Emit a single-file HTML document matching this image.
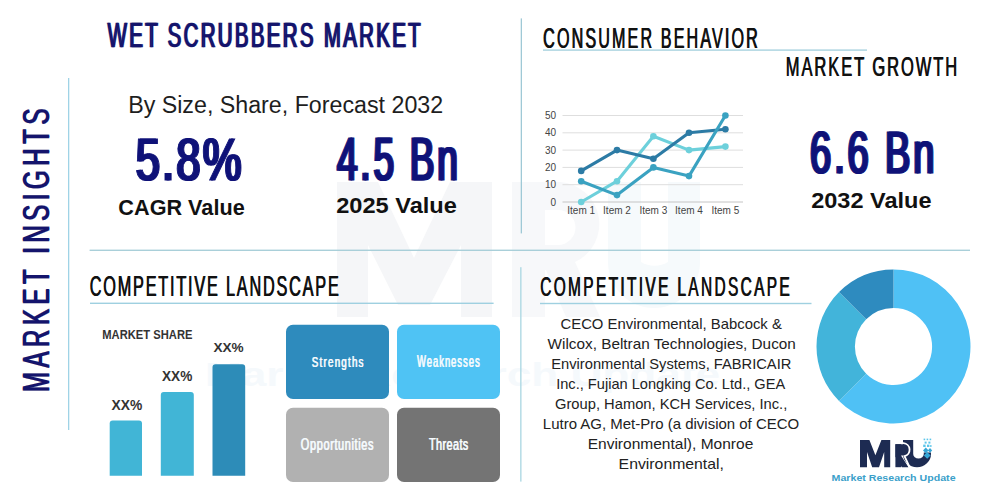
<!DOCTYPE html>
<html>
<head>
<meta charset="utf-8">
<style>
html,body{margin:0;padding:0;background:#fff;}
body{width:1000px;height:500px;overflow:hidden;position:relative;font-family:"Liberation Sans",sans-serif;}
svg{position:absolute;left:0;top:0;}
text{font-family:"Liberation Sans",sans-serif;}
</style>
</head>
<body>
<svg width="1000" height="500" viewBox="0 0 1000 500">
<g id="wm" fill="#f5f6f8">
  <path d="M337,317 V182 H378 L414,258 L450,182 H492 V317 H461 V245 L430,305 H398 L368,245 V317 Z"/>
  <path d="M512,317 V182 H560 A42,42 0 0 1 575,262 L600,317 H566 L546,270 H545 V317 Z M545,210 V245 H558 A17,17 0 0 0 558,210 Z" fill-rule="evenodd" fill="#f7f8fa"/>
  <path d="M608,182 H641 V262 A26,26 0 0 0 668,262 V182 H700 V262 A46,46 0 0 1 608,262 Z" fill="#f6fafc"/>
</g>
<text id="WT" x="205" y="386" font-size="34" font-weight="bold" fill="#f5f9fc" textLength="515" lengthAdjust="spacingAndGlyphs">Market Research Update</text>

<!-- lines -->
<rect x="68" y="78" width="1.3" height="352" fill="#9fd3e6"/>
<rect x="520.7" y="18.4" width="1.3" height="215" fill="#9fc9d6"/>
<rect x="543" y="49.4" width="324" height="1.4" fill="#a9d3df"/>
<rect x="89.6" y="249.6" width="880.4" height="1.4" fill="#a9cfd9"/>
<rect x="90" y="302.6" width="403.6" height="1.4" fill="#9fd0e0"/>
<rect x="520.2" y="267.2" width="1.3" height="214.4" fill="#a9d6e2"/>
<rect x="540" y="302.8" width="271.5" height="1.4" fill="#9fd0e0"/>

<!-- line chart -->
<g id="chart">
<g stroke="#dedede" stroke-width="1">
  <line x1="562.5" y1="115.5" x2="743" y2="115.5"/>
  <line x1="562.5" y1="132.8" x2="743" y2="132.8"/>
  <line x1="562.5" y1="150.1" x2="743" y2="150.1"/>
  <line x1="562.5" y1="167.4" x2="743" y2="167.4"/>
  <line x1="562.5" y1="184.7" x2="743" y2="184.7"/>
</g>
<line x1="562.5" y1="202" x2="743" y2="202" stroke="#c4c4c4" stroke-width="1"/>
<g font-size="10" fill="#444" text-anchor="end">
  <text x="556" y="119">50</text>
  <text x="556" y="136.3">40</text>
  <text x="556" y="153.6">30</text>
  <text x="556" y="170.9">20</text>
  <text x="556" y="188.2">10</text>
  <text x="556" y="205.5">0</text>
</g>
<g font-size="10" fill="#444" text-anchor="middle">
  <text x="581.2" y="213.7">Item 1</text>
  <text x="617" y="213.7">Item 2</text>
  <text x="653.4" y="213.7">Item 3</text>
  <text x="689" y="213.7">Item 4</text>
  <text x="725.4" y="213.7">Item 5</text>
</g>
<polyline fill="none" stroke="#6dd0db" stroke-width="3.1" stroke-linejoin="round" points="581.2,202.0 617,181.2 653.4,136.3 689,150.1 725.4,146.6"/>
<g fill="#6dd0db"><circle cx="581.2" cy="202.0" r="3.3"/><circle cx="617" cy="181.2" r="3.3"/><circle cx="653.4" cy="136.3" r="3.3"/><circle cx="689" cy="150.1" r="3.3"/><circle cx="725.4" cy="146.6" r="3.3"/></g>
<polyline fill="none" stroke="#2c7ba5" stroke-width="3.1" stroke-linejoin="round" points="581.2,170.9 617,150.1 653.4,158.8 689,132.8 725.4,129.3"/>
<g fill="#2c7ba5"><circle cx="581.2" cy="170.9" r="3.3"/><circle cx="617" cy="150.1" r="3.3"/><circle cx="653.4" cy="158.8" r="3.3"/><circle cx="689" cy="132.8" r="3.3"/><circle cx="725.4" cy="129.3" r="3.3"/></g>
<polyline fill="none" stroke="#3aa2c1" stroke-width="3.1" stroke-linejoin="round" points="581.2,181.2 617,195.1 653.4,167.4 689,176.1 725.4,115.5"/>
<g fill="#3aa2c1"><circle cx="581.2" cy="181.2" r="3.3"/><circle cx="617" cy="195.1" r="3.3"/><circle cx="653.4" cy="167.4" r="3.3"/><circle cx="689" cy="176.1" r="3.3"/><circle cx="725.4" cy="115.5" r="3.3"/></g>
</g>
</g>

<!-- bars -->
<path d="M109.7,475.8 V423.4 a3,3 0 0 1 3,-3 H139 a3,3 0 0 1 3,3 V475.8 Z" fill="#41b5d6"/>
<path d="M160.8,475.8 V395.1 a3,3 0 0 1 3,-3 H190.8 a3,3 0 0 1 3,3 V475.8 Z" fill="#41b5d6"/>
<path d="M212.5,475.8 V367.2 a3,3 0 0 1 3,-3 H242.2 a3,3 0 0 1 3,3 V475.8 Z" fill="#2d8cb8"/>

<!-- SWOT -->
<rect x="286" y="324.8" width="103" height="74.2" rx="7" fill="#2e8bbd"/>
<rect x="397" y="324.8" width="103" height="74.2" rx="7" fill="#4fc3f4"/>
<rect x="286" y="407.8" width="103" height="74.2" rx="7" fill="#b1b1b1"/>
<rect x="397" y="407.8" width="103" height="74.2" rx="7" fill="#747474"/>

<!-- donut -->
<g transform="translate(893.5,346.5)">
  <path d="M0,-77 A77,77 0 1 1 -54.45,54.45 L-27.3,27.3 A38.6,38.6 0 1 0 0,-38.6 Z" fill="#4fc1f5"/>
  <path d="M-54.45,54.45 A77,77 0 0 1 -54.45,-54.45 L-27.3,-27.3 A38.6,38.6 0 0 0 -27.3,27.3 Z" fill="#42b4da"/>
  <path d="M-54.45,-54.45 A77,77 0 0 1 0,-77 L0,-38.6 A38.6,38.6 0 0 0 -27.3,-27.3 Z" fill="#2e8bbf"/>
</g>

<g id="V1" transform="translate(49,392.5) rotate(-90)" fill="#14146c" stroke="#14146c" stroke-width="0.3" font-size="37.8" letter-spacing="7.3">
<text x="0" y="0" textLength="288" lengthAdjust="spacingAndGlyphs">MARKET INSIGHTS</text>
<text x="1" y="0" textLength="288" lengthAdjust="spacingAndGlyphs">MARKET INSIGHTS</text>
</g>

<g id="logo">
  <path fill="#1d2b52" d="M860,467.2 V440 H869.4 L875.4,455.2 L881.4,440 H890.2 V467.2 H884.2 V452 L879,467.2 H872.2 L867,452 V467.2 Z"/>
  <path fill="#1d2b52" d="M903,440 H913.2 V454 A5.3,4.6 0 0 0 923.8,454 V452.5 H931 V454 A14,13.2 0 0 1 903,454 Z"/>
  <path fill="#1d2b52" d="M895.4,444.2 H903.5 A5.6,5.6 0 0 1 903.5,455.4 H901 L908.5,467.2 H901.8 L895.6,457 H895.4 V467.2 H895.4 Z"/>
  <path fill="none" stroke="#fff" stroke-width="1.8" d="M895,443.2 H903.5 A6.6,6.6 0 0 1 904.5,456.2 L910,468"/>
  <rect x="895.4" y="444.2" width="5.6" height="23" fill="#1d2b52"/>
  <g fill="#5cc6ea">
    <rect x="923.6" y="438.6" width="1.6" height="1.6"/><rect x="926.6" y="438.6" width="1.6" height="1.6"/><rect x="929.6" y="438.6" width="1.6" height="1.6"/>
    <rect x="924.6" y="441.6" width="2" height="2"/><rect x="928.4" y="441.6" width="2" height="2"/>
    <rect x="923.2" y="444.6" width="2.4" height="2.4"/><rect x="927" y="444.6" width="2.4" height="2.4"/><rect x="930" y="445.2" width="1.6" height="1.6"/>
  </g>
  <g fill="#36a6d6">
    <path d="M925.8,447.6 L928.6,450.4 L925.8,453.2 L923,450.4 Z"/>
    <path d="M930,448 L932.2,450.4 L930,452.8 L927.8,450.4 Z"/>
    <path d="M927.2,452 L930.6,455.4 L927.2,458.8 L923.8,455.4 Z"/>
  </g>
</g>
<g id="T1"><text x="106.93" y="46.65" font-size="35.77" fill="#14146c" letter-spacing="4.11" stroke="#14146c" stroke-width="0.3" textLength="315.36" lengthAdjust="spacingAndGlyphs">WET SCRUBBERS MARKET</text><text x="108.33" y="46.65" font-size="35.77" fill="#14146c" letter-spacing="4.11" stroke="#14146c" stroke-width="0.3" textLength="315.36" lengthAdjust="spacingAndGlyphs">WET SCRUBBERS MARKET</text></g>
<text id="T2" x="128.15" y="112.50" font-size="24.39" fill="#1e1e1e" textLength="315.01" lengthAdjust="spacingAndGlyphs">By Size, Share, Forecast 2032</text>
<g id="N1"><text x="134.65" y="180.40" font-size="59.91" fill="#0f1278" letter-spacing="2.91" stroke="#0f1278" stroke-width="1.2" textLength="107.96" lengthAdjust="spacingAndGlyphs">5.8%</text><text x="136.65" y="180.40" font-size="59.91" fill="#0f1278" letter-spacing="2.91" stroke="#0f1278" stroke-width="1.2" textLength="107.96" lengthAdjust="spacingAndGlyphs">5.8%</text></g>
<text id="L1" x="118.36" y="215.10" font-size="21.65" fill="#111111" font-weight="bold" textLength="126.32" lengthAdjust="spacingAndGlyphs">CAGR Value</text>
<g id="N2"><text x="336.00" y="180.40" font-size="60.26" fill="#0f1278" letter-spacing="4.54" stroke="#0f1278" stroke-width="1.2" textLength="123.55" lengthAdjust="spacingAndGlyphs">4.5 Bn</text><text x="338.00" y="180.40" font-size="60.26" fill="#0f1278" letter-spacing="4.54" stroke="#0f1278" stroke-width="1.2" textLength="123.55" lengthAdjust="spacingAndGlyphs">4.5 Bn</text></g>
<text id="L2" x="336.19" y="213.40" font-size="21.29" fill="#111111" font-weight="bold" textLength="120.63" lengthAdjust="spacingAndGlyphs">2025 Value</text>
<g id="H1"><text x="542.87" y="47.65" font-size="28.60" fill="#111111" letter-spacing="3.79" stroke="#111111" stroke-width="0.1" textLength="216.77" lengthAdjust="spacingAndGlyphs">CONSUMER BEHAVIOR</text><text x="543.47" y="47.65" font-size="28.60" fill="#111111" letter-spacing="3.79" stroke="#111111" stroke-width="0.1" textLength="216.77" lengthAdjust="spacingAndGlyphs">CONSUMER BEHAVIOR</text></g>
<g id="H2"><text x="785.46" y="76.25" font-size="28.51" fill="#111111" letter-spacing="3.37" stroke="#111111" stroke-width="0.1" textLength="173.41" lengthAdjust="spacingAndGlyphs">MARKET GROWTH</text><text x="786.06" y="76.25" font-size="28.51" fill="#111111" letter-spacing="3.37" stroke="#111111" stroke-width="0.1" textLength="173.41" lengthAdjust="spacingAndGlyphs">MARKET GROWTH</text></g>
<g id="N3"><text x="809.12" y="173.20" font-size="59.61" fill="#0f1278" letter-spacing="4.61" stroke="#0f1278" stroke-width="1.2" textLength="127.26" lengthAdjust="spacingAndGlyphs">6.6 Bn</text><text x="811.12" y="173.20" font-size="59.61" fill="#0f1278" letter-spacing="4.61" stroke="#0f1278" stroke-width="1.2" textLength="127.26" lengthAdjust="spacingAndGlyphs">6.6 Bn</text></g>
<text id="L3" x="811.20" y="207.70" font-size="22.38" fill="#111111" font-weight="bold" textLength="120.28" lengthAdjust="spacingAndGlyphs">2032 Value</text>
<g id="H3"><text x="89.44" y="296.35" font-size="28.65" fill="#111111" letter-spacing="3.15" stroke="#111111" stroke-width="0.1" textLength="250.84" lengthAdjust="spacingAndGlyphs">COMPETITIVE LANDSCAPE</text><text x="90.04" y="296.35" font-size="28.65" fill="#111111" letter-spacing="3.15" stroke="#111111" stroke-width="0.1" textLength="250.84" lengthAdjust="spacingAndGlyphs">COMPETITIVE LANDSCAPE</text></g>
<g id="H4"><text x="539.90" y="296.25" font-size="27.06" fill="#111111" letter-spacing="4.11" stroke="#111111" stroke-width="0.1" textLength="251.87" lengthAdjust="spacingAndGlyphs">COMPETITIVE LANDSCAPE</text><text x="540.50" y="296.25" font-size="27.06" fill="#111111" letter-spacing="4.11" stroke="#111111" stroke-width="0.1" textLength="251.87" lengthAdjust="spacingAndGlyphs">COMPETITIVE LANDSCAPE</text></g>
<text id="MS" x="102.28" y="338.70" font-size="12.49" fill="#333333" font-weight="bold" textLength="90.17" lengthAdjust="spacingAndGlyphs">MARKET SHARE</text>
<text id="X1" x="111.50" y="410.00" font-size="13.84" fill="#333333" font-weight="bold" textLength="30.72" lengthAdjust="spacingAndGlyphs">XX%</text>
<text id="X2" x="161.97" y="380.60" font-size="13.95" fill="#333333" font-weight="bold" textLength="30.31" lengthAdjust="spacingAndGlyphs">XX%</text>
<text id="X3" x="213.47" y="352.30" font-size="13.52" fill="#333333" font-weight="bold" textLength="30.27" lengthAdjust="spacingAndGlyphs">XX%</text>
<g id="S1"><text x="311.60" y="366.73" font-size="15.27" fill="#f5fafd" letter-spacing="1.96" stroke="#f5fafd" stroke-width="0.15" textLength="52.83" lengthAdjust="spacingAndGlyphs">Strengths</text><text x="312.10" y="366.73" font-size="15.27" fill="#f5fafd" letter-spacing="1.96" stroke="#f5fafd" stroke-width="0.15" textLength="52.83" lengthAdjust="spacingAndGlyphs">Strengths</text></g>
<g id="S2"><text x="416.80" y="366.73" font-size="15.64" fill="#f5fafd" letter-spacing="1.66" stroke="#f5fafd" stroke-width="0.15" textLength="63.59" lengthAdjust="spacingAndGlyphs">Weaknesses</text><text x="417.30" y="366.73" font-size="15.64" fill="#f5fafd" letter-spacing="1.66" stroke="#f5fafd" stroke-width="0.15" textLength="63.59" lengthAdjust="spacingAndGlyphs">Weaknesses</text></g>
<g id="S3"><text x="300.61" y="449.73" font-size="16.99" fill="#f5fafd" letter-spacing="0.98" stroke="#f5fafd" stroke-width="0.15" textLength="73.26" lengthAdjust="spacingAndGlyphs">Opportunities</text><text x="301.11" y="449.73" font-size="16.99" fill="#f5fafd" letter-spacing="0.98" stroke="#f5fafd" stroke-width="0.15" textLength="73.26" lengthAdjust="spacingAndGlyphs">Opportunities</text></g>
<g id="S4"><text x="428.83" y="449.73" font-size="16.99" fill="#f5fafd" letter-spacing="0.63" stroke="#f5fafd" stroke-width="0.15" textLength="39.61" lengthAdjust="spacingAndGlyphs">Threats</text><text x="429.33" y="449.73" font-size="16.99" fill="#f5fafd" letter-spacing="0.63" stroke="#f5fafd" stroke-width="0.15" textLength="39.61" lengthAdjust="spacingAndGlyphs">Threats</text></g>
<text id="C1" x="560.50" y="329.40" font-size="14.60" fill="#222222" textLength="221.31" lengthAdjust="spacingAndGlyphs">CECO Environmental, Babcock &amp;</text>
<text id="C2" x="547.58" y="349.30" font-size="14.60" fill="#222222" textLength="248.25" lengthAdjust="spacingAndGlyphs">Wilcox, Beltran Technologies, Ducon</text>
<text id="C3" x="551.29" y="369.20" font-size="14.60" fill="#222222" textLength="240.10" lengthAdjust="spacingAndGlyphs">Environmental Systems, FABRICAIR</text>
<text id="C4" x="556.20" y="389.10" font-size="14.60" fill="#222222" textLength="228.99" lengthAdjust="spacingAndGlyphs">Inc., Fujian Longking Co. Ltd., GEA</text>
<text id="C5" x="555.01" y="409.00" font-size="14.60" fill="#222222" textLength="232.24" lengthAdjust="spacingAndGlyphs">Group, Hamon, KCH Services, Inc.,</text>
<text id="C6" x="542.89" y="428.90" font-size="14.60" fill="#222222" textLength="256.34" lengthAdjust="spacingAndGlyphs">Lutro AG, Met-Pro (a division of CECO</text>
<text id="C7" x="587.67" y="448.80" font-size="14.60" fill="#222222" textLength="165.64" lengthAdjust="spacingAndGlyphs">Environmental), Monroe</text>
<text id="C8" x="618.63" y="468.70" font-size="14.60" fill="#222222" textLength="105.31" lengthAdjust="spacingAndGlyphs">Environmental,</text>
<text id="LT" x="831.60" y="481.00" font-size="9.60" fill="#3b9fca" font-weight="bold" textLength="123.97" lengthAdjust="spacingAndGlyphs">Market Research Update</text>
</svg>
</body>
</html>
